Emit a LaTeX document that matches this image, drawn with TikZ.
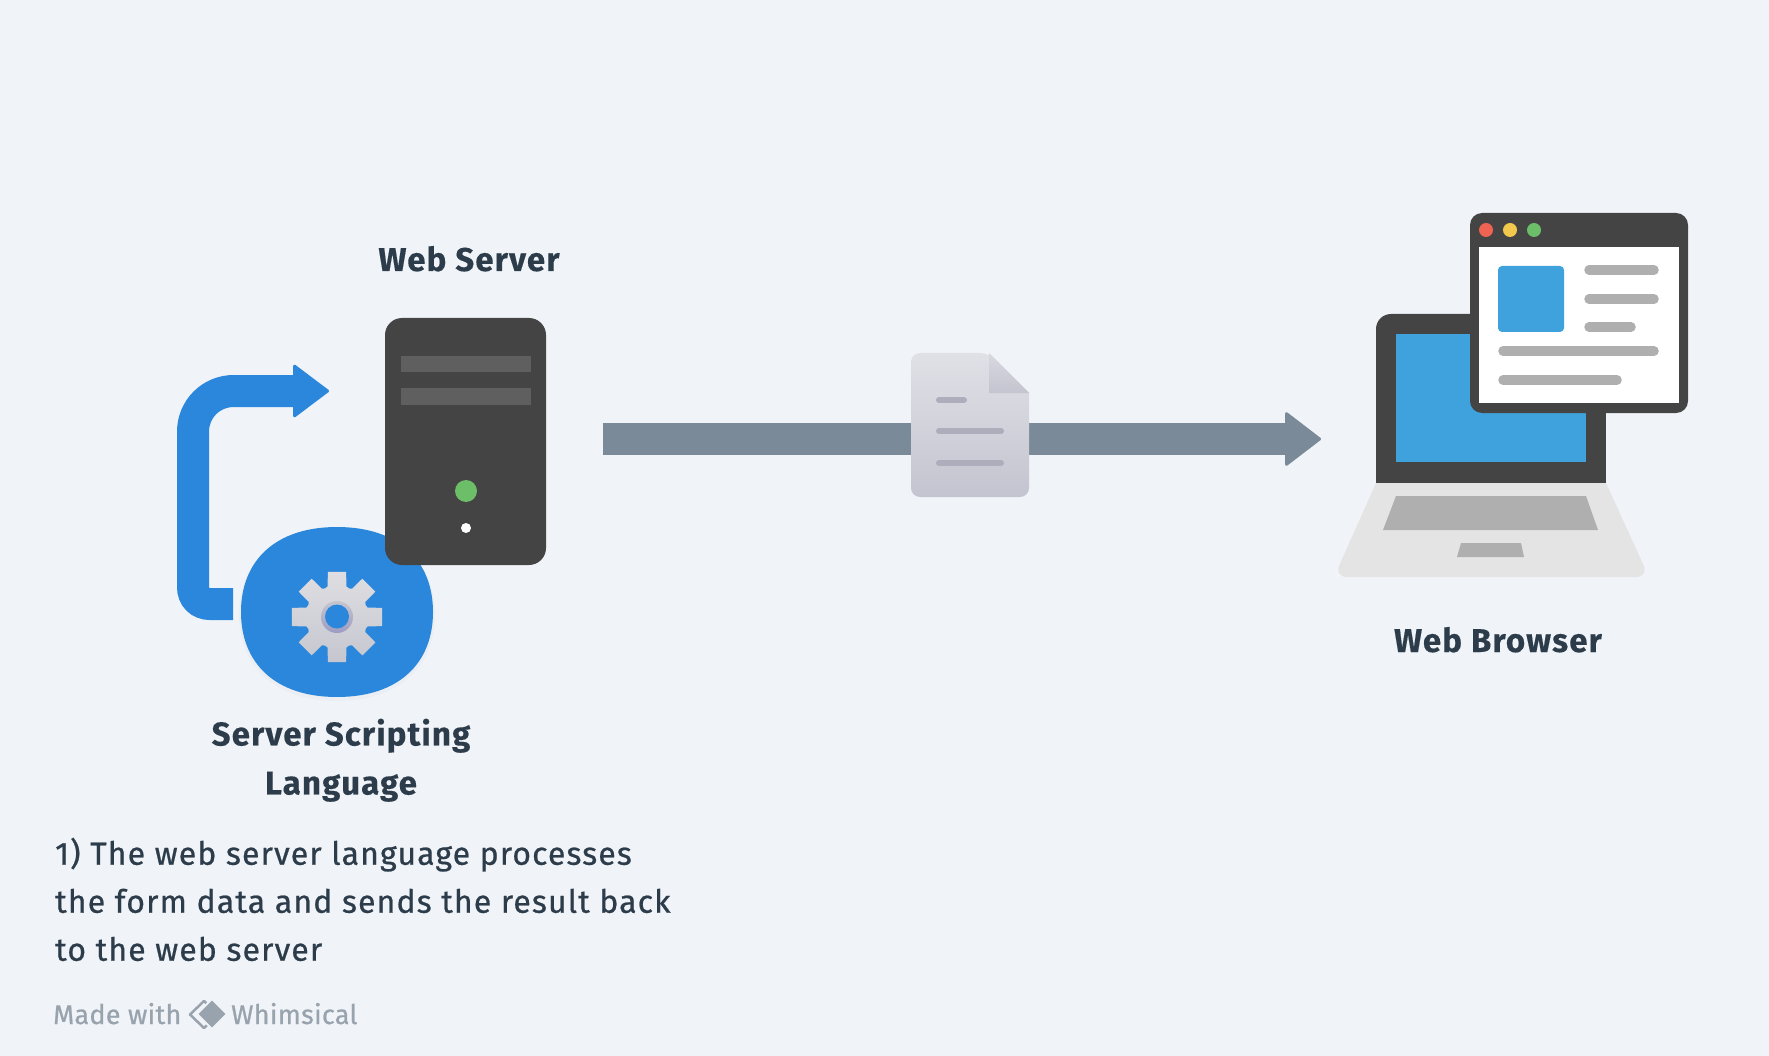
\documentclass[tikz,border=0pt]{standalone}
\usepackage{fontspec}
\setmainfont{Fira Sans}
\newfontfamily\titlefont[LetterSpace=3.5,FakeBold=0.3]{Fira Sans}
\newfontfamily\bodyfont[LetterSpace=3.5,FakeBold=0.7]{Fira Sans}
\newfontfamily\wmfont[LetterSpace=1,FakeBold=0.7]{Fira Sans}
\usetikzlibrary{arrows.meta}
\definecolor{bgc}{HTML}{F0F4F8}
\definecolor{ink}{HTML}{2D3C4A}
\definecolor{flowblue}{HTML}{2B87DB}
\definecolor{slate}{HTML}{7A8A99}
\definecolor{darkbox}{HTML}{444444}
\definecolor{darkbar}{HTML}{5F5F5F}
\definecolor{lapblue}{HTML}{3FA2DC}
\definecolor{greyline}{HTML}{AFAFAF}
\definecolor{lapbase}{HTML}{E4E4E4}
\definecolor{wmark}{HTML}{98A3AE}
\definecolor{docline}{HTML}{ADADBC}
\definecolor{ledgreen}{HTML}{6CBE68}
\definecolor{ledred}{HTML}{EE6352}
\definecolor{ledyellow}{HTML}{F2C94C}
\definecolor{gearhi}{HTML}{DEDEE2}
\definecolor{gearlo}{HTML}{C6C6D0}
\definecolor{dochi}{HTML}{E0E1E7}
\definecolor{doclo}{HTML}{C3C4CF}
\tikzset{
  title/.style={font=\fontsize{33}{49}\titlefont\bfseries,text=ink,align=center,inner sep=0pt},
  body/.style={font=\fontsize{32}{48}\bodyfont,text=ink,align=left,inner sep=0pt,anchor=north west},
  wm/.style={font=\fontsize{27}{30}\wmfont,text=wmark,inner sep=0pt,anchor=base west},
  greybar/.style={line width=9.5pt,line cap=round,draw=greyline},
  docbar/.style={line width=6pt,line cap=round,draw=docline},
  flow/.style={draw=flowblue,line width=32pt},
}
\begin{document}
\begin{tikzpicture}[x=1pt,y=-1pt]
\useasboundingbox (0,0) rectangle (1769,1056);
\fill[bgc] (0,0) rectangle (1769,1056);

% main arrow
\coordinate (mainstart) at (603,439);
\coordinate (mainend) at (1321,439);
\draw[draw=slate,line width=32pt,-{Triangle[length=37pt,width=56pt,line width=3pt,round]}] (mainstart) -- (mainend);

% loop arrow
\coordinate (loopstart) at (233,604);
\coordinate (looptip) at (329,391);
\draw[flow,-{Triangle[length=37pt,width=55pt,line width=3pt,round]}] (loopstart) -- (210,604)
  .. controls (200,604) and (193,597) .. (193,587) -- (193,432)
  .. controls (193,409) and (211,391) .. (234,391) -- (looptip);

% script blob
\fill[black,opacity=.02] (337,528) .. controls (399,528) and (435,563) .. (435,615)
  .. controls (435,667) and (399,701) .. (337,701)
  .. controls (275,701) and (239,667) .. (239,615)
  .. controls (239,563) and (275,528) .. (337,528) -- cycle;
\fill[flowblue] (337,527) .. controls (399,527) and (433,561) .. (433,612)
  .. controls (433,663) and (399,697) .. (337,697)
  .. controls (275,697) and (241,663) .. (241,612)
  .. controls (241,561) and (275,527) .. (337,527) -- cycle;
% gear
\begin{scope}[shift={(337,617)}]
\shade[top color=gearhi,bottom color=gearlo]
  (67.5:31pt) \foreach \a in {90,135,...,405} {
    -- ({\a-17}:32pt) -- ({\a-11.5}:46pt) -- ({\a+11.5}:46pt) -- ({\a+17}:32pt) -- ({\a+22.5}:31pt)
  } -- cycle;
\shade[top color=gearlo,bottom color=docline!90!blue] (0,0) circle (16pt);
\fill[flowblue] (0,-0.5) circle (12pt);
\end{scope}

% server
\node[fill=darkbox,rounded corners=17pt,minimum width=161pt,minimum height=247pt,inner sep=0pt] (server) at (465.5,441.5) {};
\fill[darkbar] (401,356) rectangle (531,372);
\fill[darkbar] (401,388) rectangle (531,405);
\fill[ledgreen] (466,491) circle (11pt);
\fill[white] (466,528) circle (5pt);

% document
\shade[top color=dochi,bottom color=doclo,rounded corners=9pt]
  (911,353) -- (989,353) [sharp corners] -- (1029,393) [rounded corners=9pt] -- (1029,497) -- (911,497) -- cycle;
\shade[top color=dochi!70!doclo,bottom color=doclo] (989,353) -- (1029,393) -- (989,393) -- cycle;
\draw[docbar] (939,400) -- (964,400);
\draw[docbar] (939,431) -- (1001,431);
\draw[docbar] (939,463) -- (1001,463);

% laptop
\fill[lapbase] (1376,483) -- (1606,483) [rounded corners=13pt] -- (1649,577) -- (1334,577) [sharp corners] -- cycle;
\fill[darkbox,rounded corners=15pt] (1376,345) -- (1376,314) -- (1606,314) -- (1606,345) -- cycle;
\fill[darkbox] (1376,328) rectangle (1606,483);
\fill[lapblue] (1396,334) rectangle (1586,462);
\fill[greyline] (1396,496) -- (1586,496) -- (1598,530) -- (1383,530) -- cycle;
\fill[greyline] (1461,543) -- (1521,543) -- (1524,557) -- (1457,557) -- cycle;

% browser window
\fill[darkbox,rounded corners=12pt] (1470,213) rectangle (1688,413);
\fill[white] (1479,247) rectangle (1679,403);
\fill[ledred] (1486,230) circle (7pt);
\fill[ledyellow] (1510,230) circle (7pt);
\fill[ledgreen] (1534,230) circle (7pt);
\fill[lapblue,rounded corners=4pt] (1498,266) rectangle (1564,332);
\draw[greybar] (1589,270) -- (1654,270);
\draw[greybar] (1589,299) -- (1654,299);
\draw[greybar] (1589,327) -- (1631,327);
\draw[greybar] (1503,351) -- (1654,351);
\draw[greybar] (1503,380) -- (1617,380);

% labels
\node[title,anchor=base] (lserver) at (469,271) {Web Server};
\node[title,anchor=base] (lbrowser) at (1498,652) {Web Browser};
\node[title,anchor=north] (lscript) at (341,718.5) {Server Scripting\\Language};
\node[body] (note) at (55,837.5) {1) The web server language processes\\the form data and sends the result back\\to the web server};

% watermark
\node[wm] (made) at (53,1024) {Made with};
\node[wm] (whim) at (231,1024) {Whimsical};
\draw[wmark,line width=2.5pt,line join=round] (204,1001) -- (190,1014.5) -- (204,1028) -- (218,1014.5) -- cycle;
\fill[wmark,draw=bgc,line width=2pt] (212,999) -- (227,1014) -- (212,1029) -- (197,1014) -- cycle;
\end{tikzpicture}
\end{document}
